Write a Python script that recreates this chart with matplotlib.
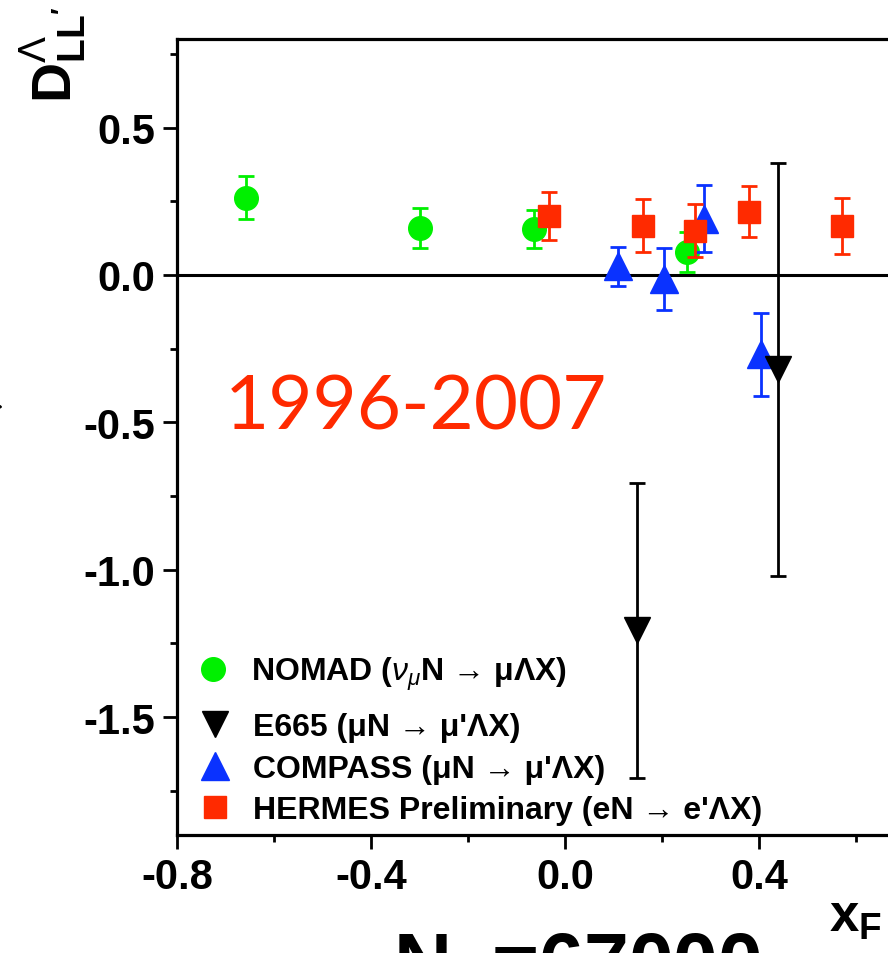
import matplotlib
matplotlib.use("Agg")
import matplotlib.pyplot as plt
from matplotlib.lines import Line2D
from matplotlib.ticker import FixedLocator, MultipleLocator, FormatStrFormatter

plt.rcParams['font.family'] = ['Liberation Sans', 'DejaVu Sans']
plt.rcParams['mathtext.fontset'] = 'custom'
plt.rcParams['mathtext.rm'] = 'Liberation Sans'
plt.rcParams['mathtext.bf'] = 'Liberation Sans:bold'
plt.rcParams['mathtext.it'] = 'Liberation Sans:italic'

# data (x_F, D_LL', error)
nomad_x = [-0.658, -0.298, -0.063, 0.251]
nomad_y = [0.262, 0.158, 0.155, 0.078]
nomad_err = [0.074, 0.068, 0.065, 0.067]

e665_x = [0.149, 0.439]
e665_y = [-1.205, -0.32]
e665_err = [0.50, 0.70]

compass_x = [0.109, 0.205, 0.287, 0.405]
compass_y = [0.029, -0.014, 0.19, -0.27]
compass_err = [0.065, 0.105, 0.114, 0.14]

hermes_x = [-0.033, 0.160, 0.268, 0.379, 0.570]
hermes_y = [0.20, 0.167, 0.15, 0.215, 0.165]
hermes_err = [0.08, 0.09, 0.09, 0.085, 0.095]

x_major = [-0.8, -0.4, 0.0, 0.4]
labels = [r"NOMAD ($\nu_{\mu}$N → μΛX)",
          "E665 (μN → μ'ΛX)",
          "COMPASS (μN → μ'ΛX)",
          "HERMES Preliminary (eN → e'ΛX)"]

green = '#00f000'
black = '#000000'
blue = '#0a32ff'
red = '#ff2a00'

fig = plt.figure(figsize=(8.88, 9.54), dpi=100)
ax = fig.add_axes([0.1993, 0.1237, 0.874, 0.8343])

ax.axhline(0, color='k', lw=2.2, zorder=1)

eb = dict(ls='none', capsize=6, elinewidth=2, capthick=2)
ax.errorbar(nomad_x, nomad_y, yerr=nomad_err, marker='o', ms=17, color=green, zorder=3, **eb)
ax.errorbar(compass_x, compass_y, yerr=compass_err, marker='^', ms=20, color=blue, zorder=4, **eb)
ax.errorbar(e665_x, e665_y, yerr=e665_err, marker='v', ms=19, color=black, zorder=5, **eb)
ax.errorbar(hermes_x, hermes_y, yerr=hermes_err, marker='s', ms=16, color=red, zorder=6, **eb)

ax.set_xlim(-0.8, 0.8)
ax.set_ylim(-1.9, 0.8)

ax.xaxis.set_major_locator(FixedLocator(x_major))
ax.xaxis.set_minor_locator(MultipleLocator(0.2))
ax.yaxis.set_major_locator(MultipleLocator(0.5))
ax.yaxis.set_minor_locator(MultipleLocator(0.25))
ax.xaxis.set_major_formatter(FormatStrFormatter('%.1f'))
ax.yaxis.set_major_formatter(FormatStrFormatter('%.1f'))

for s in ax.spines.values():
    s.set_linewidth(2.3)
ax.tick_params(which='both', direction='out', width=2, top=False, right=False)
ax.tick_params(which='major', length=10, labelsize=30, pad=6)
ax.tick_params(which='minor', length=5)
for lab in ax.get_xticklabels() + ax.get_yticklabels():
    lab.set_fontweight('bold')

ax.text(-0.307, -0.447, "1996-2007", color=red, fontsize=55,
        family='Lato', ha='center', va='center')

handles = [Line2D([], [], ls='none', marker='o', ms=17, color=green),
           Line2D([], [], ls='none', marker='v', ms=19, color=black),
           Line2D([], [], ls='none', marker='^', ms=20, color=blue),
           Line2D([], [], ls='none', marker='s', ms=16, color=red)]
leg_kw = dict(frameon=False, prop={'weight': 'bold', 'size': 23},
              borderpad=0.25, handlelength=1.75, handletextpad=0.33)

# NOMAD entry sits apart from the others (taller, subscript)
leg1 = ax.legend(handles[:1], labels[:1], loc='center left',
                 bbox_to_anchor=(0.0, 0.203), borderaxespad=0, **leg_kw)
ax.add_artist(leg1)
ax.legend(handles[1:], labels[1:], loc='lower left', borderaxespad=0.05,
          labelspacing=0.36, **leg_kw)

fig.text(0.081, 0.892, r"$\mathbf{D}^{\Lambda}_{\mathbf{LL'}}$", fontsize=40,
         rotation=90, rotation_mode='anchor', ha='left', va='baseline')
fig.text(0.934, 0.023, r"$\mathbf{x}_{\mathbf{F}}$", fontsize=38,
         ha='left', va='baseline')
fig.text(0.4426, -0.0377, r"N$_{\Lambda}$=67000", fontsize=58,
         fontweight='bold', ha='left', va='baseline')

ax.annotate('', xy=(0.007, 0.5725), xycoords='figure fraction',
            xytext=(-0.05, 0.5725), textcoords='figure fraction',
            arrowprops=dict(arrowstyle='-|>', color='k', lw=2, mutation_scale=25))

fig.savefig("out.png", dpi=100)
